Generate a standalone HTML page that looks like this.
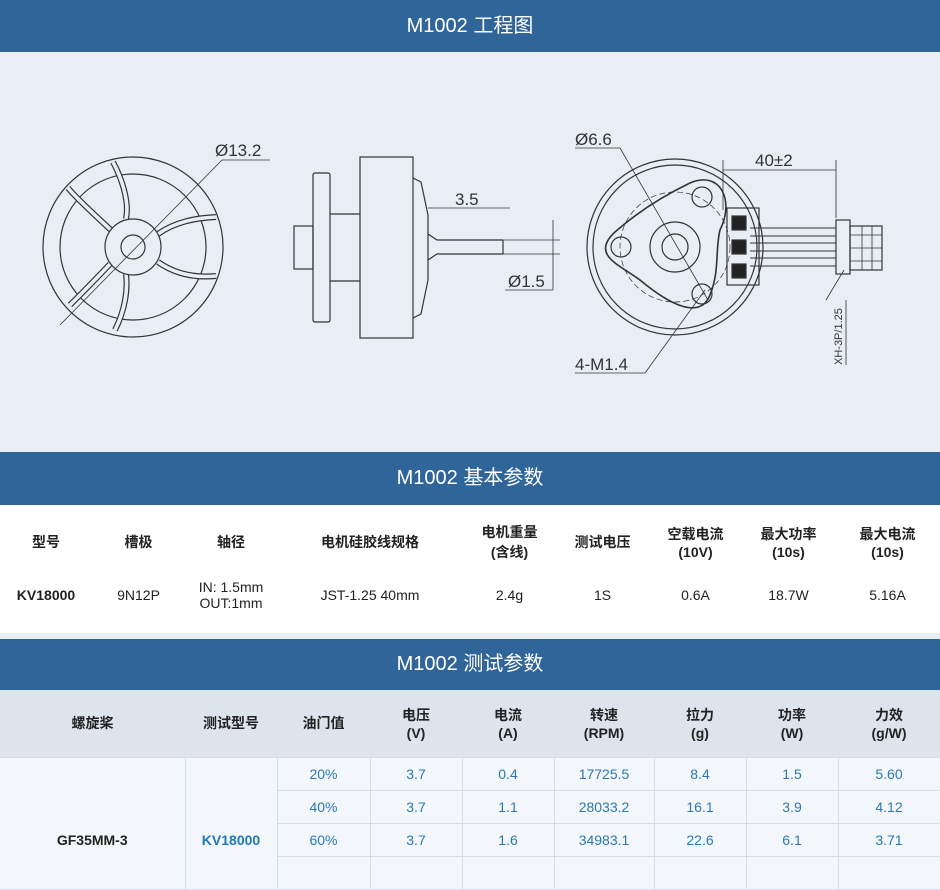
<!DOCTYPE html>
<html><head><meta charset="utf-8"><style>
*{margin:0;padding:0;box-sizing:border-box}
body{width:940px;height:863px;overflow:hidden;background:#fff;font-family:"Liberation Sans","Noto Sans CJK SC",sans-serif}
.bar{background:#306599;color:#fff;text-align:center;font-size:20px;position:absolute;left:0;width:940px}
.abs{position:absolute}
table{border-collapse:collapse;position:absolute;left:0;width:940px;table-layout:fixed}
td{text-align:center;vertical-align:middle;font-size:14px;color:#222}
.t2 td{border:1px solid #d5dde6}
.t2 .c{color:#2a7ab0}
</style></head><body>
<div class="bar" style="top:0;height:52px;line-height:52px">M1002 工程图</div>
<div class="abs" style="top:52px;left:0;width:940px;height:400px;background:#e9eef5"></div>
<svg class="abs" style="top:0;left:0" width="940" height="452" fill="none" stroke="#333" stroke-width="1.2">
<!-- left view -->
<circle cx="133" cy="247" r="90"/>
<circle cx="133" cy="247" r="73"/>
<g stroke-width="6">
<path d="M113 232 C95 215 78 200 68 188"/>
<path d="M126 219 C130 200 120 175 113 162"/>
<path d="M158 234 C175 222 195 218 216 217"/>
<path d="M158 262 C175 274 195 278 216 276"/>
<path d="M126 274 C128 290 125 310 115 330"/>
<path d="M110 264 C95 280 80 295 70 305"/>
</g>
<g stroke-width="3.6" stroke="#e9eef5">
<path d="M113 232 C95 215 78 200 68 188"/>
<path d="M126 219 C130 200 120 175 113 162"/>
<path d="M158 234 C175 222 195 218 216 217"/>
<path d="M158 262 C175 274 195 278 216 276"/>
<path d="M126 274 C128 290 125 310 115 330"/>
<path d="M110 264 C95 280 80 295 70 305"/>
</g>
<circle cx="133" cy="247" r="28" fill="#e9eef5"/>
<circle cx="133" cy="247" r="12"/>
<line x1="60" y1="325" x2="222" y2="160" stroke-width="0.8"/>
<line x1="222" y1="160" x2="270" y2="160" stroke-width="0.8"/>
<text x="215" y="156" font-size="17" fill="#333" stroke="none" font-family="Liberation Sans">Ø13.2</text>
<!-- side view -->
<rect x="313" y="173" width="17" height="149" rx="2"/>
<line x1="330" y1="214" x2="360" y2="214"/><line x1="330" y1="281" x2="360" y2="281"/>
<rect x="294" y="226" width="19" height="43"/>
<rect x="360" y="157" width="53" height="181"/>
<path d="M413 178 L421 182 L428 215 L428 280 L421 314 L413 318"/>
<path d="M428 234 L437 240 L503 240 M428 260 L437 254 L503 254"/>
<line x1="503" y1="240" x2="503" y2="254"/>
<line x1="428" y1="208" x2="510" y2="208" stroke-width="0.8"/>
<text x="455" y="205" font-size="17" fill="#333" stroke="none" font-family="Liberation Sans">3.5</text>
<line x1="503" y1="240" x2="560" y2="240" stroke-width="0.8"/>
<line x1="503" y1="254" x2="560" y2="254" stroke-width="0.8"/>
<line x1="553" y1="220" x2="553" y2="290" stroke-width="0.8"/>
<line x1="505" y1="290" x2="553" y2="290" stroke-width="0.8"/>
<text x="508" y="287" font-size="17" fill="#333" stroke="none" font-family="Liberation Sans">Ø1.5</text>
<!-- right view -->
<circle cx="675" cy="247" r="88"/>
<circle cx="675" cy="247" r="82"/>
<circle cx="675" cy="247" r="55" stroke-dasharray="6 3" stroke-width="0.7"/>
<path d="M690 183 C720 170 735 200 720 230 C715 250 720 270 710 295 C700 320 670 305 640 280 C620 265 590 255 615 232 C640 210 665 195 690 183 Z" stroke-width="1.6"/>
<circle cx="675" cy="247" r="25"/>
<circle cx="675" cy="247" r="13"/>
<circle cx="702" cy="197" r="10"/>
<circle cx="621" cy="247" r="10"/>
<circle cx="702" cy="294" r="10"/>
<rect x="727" y="208" width="32" height="77"/>
<rect x="732" y="216" width="14" height="14" fill="#222"/>
<rect x="732" y="240" width="14" height="14" fill="#222"/>
<rect x="732" y="264" width="14" height="14" fill="#222"/>
<path d="M750 228 H836 M750 236 H836 M750 243 H836 M750 251 H836 M750 258 H836 M750 266 H836" stroke-width="0.9"/>
<rect x="836" y="220" width="14" height="54"/>
<rect x="850" y="226" width="32" height="44"/>
<path d="M850 235 H882 M850 248 H882 M850 261 H882 M862 226 V270 M872 226 V270" stroke-width="0.8"/>
<line x1="723" y1="170" x2="836" y2="170" stroke-width="0.8"/>
<line x1="723" y1="160" x2="723" y2="210" stroke-width="0.8"/>
<line x1="836" y1="160" x2="836" y2="218" stroke-width="0.8"/>
<text x="755" y="166" font-size="17" fill="#333" stroke="none" font-family="Liberation Sans">40±2</text>
<line x1="575" y1="148" x2="620" y2="148" stroke-width="0.8"/>
<line x1="620" y1="148" x2="708" y2="300" stroke-width="0.8"/>
<text x="575" y="145" font-size="17" fill="#333" stroke="none" font-family="Liberation Sans">Ø6.6</text>
<line x1="575" y1="373" x2="645" y2="373" stroke-width="0.8"/>
<line x1="645" y1="373" x2="705" y2="290" stroke-width="0.8"/>
<text x="575" y="370" font-size="17" fill="#333" stroke="none" font-family="Liberation Sans">4-M1.4</text>
<line x1="844" y1="270" x2="826" y2="300" stroke-width="0.8"/>
<line x1="846" y1="300" x2="846" y2="365" stroke-width="0.8"/>
<text transform="translate(842,365) rotate(-90)" font-size="11" fill="#333" stroke="none" font-family="Liberation Sans">XH-3P/1.25</text>
</svg>
<div class="bar" style="top:452px;height:53px;line-height:53px">M1002 基本参数</div>
<table style="top:505px;height:128px">
<colgroup><col style="width:92px"><col style="width:93px"><col style="width:92px"><col style="width:186px"><col style="width:93px"><col style="width:93px"><col style="width:93px"><col style="width:93px"><col style="width:105px"></colgroup>
<tr style="height:73px"><td><b>型号</b></td><td><b>槽极</b></td><td><b>轴径</b></td><td><b>电机硅胶线规格</b></td><td><b>电机重量<br>(含线)</b></td><td><b>测试电压</b></td><td><b>空载电流<br>(10V)</b></td><td><b>最大功率<br>(10s)</b></td><td><b>最大电流<br>(10s)</b></td></tr>
<tr style="height:34px"><td><b>KV18000</b></td><td>9N12P</td><td>IN: 1.5mm<br>OUT:1mm</td><td>JST-1.25 40mm</td><td>2.4g</td><td>1S</td><td>0.6A</td><td>18.7W</td><td>5.16A</td></tr>
<tr><td colspan="9"></td></tr>
</table>
<div class="abs" style="top:633px;left:0;width:940px;height:6px;background:#e9eef5"></div>
<div class="bar" style="top:639px;height:51px;line-height:51px">M1002 测试参数</div>
<div class="abs" style="top:690px;left:0;width:940px;height:173px;background:#f3f6fa"></div>
<table class="t2" style="top:690px;background:#f3f6fa">
<colgroup><col style="width:185px"><col style="width:92px"><col style="width:93px"><col style="width:92px"><col style="width:92px"><col style="width:100px"><col style="width:92px"><col style="width:92px"><col style="width:102px"></colgroup>
<tr style="height:67px;background:#dde4ec"><td style="border:none"><b>螺旋桨</b></td><td style="border:none"><b>测试型号</b></td><td style="border:none"><b>油门值</b></td><td style="border:none"><b>电压<br>(V)</b></td><td style="border:none"><b>电流<br>(A)</b></td><td style="border:none"><b>转速<br>(RPM)</b></td><td style="border:none"><b>拉力<br>(g)</b></td><td style="border:none"><b>功率<br>(W)</b></td><td style="border:none"><b>力效<br>(g/W)</b></td></tr>
<tr style="height:33px"><td rowspan="4" style="vertical-align:top;padding-top:74px;border-left:none"><b>GF35MM-3</b></td><td rowspan="4" style="vertical-align:top;padding-top:74px"><b style="color:#1f78b4">KV18000</b></td><td class="c">20%</td><td class="c">3.7</td><td class="c">0.4</td><td class="c">17725.5</td><td class="c">8.4</td><td class="c">1.5</td><td class="c">5.60</td></tr>
<tr style="height:33px"><td class="c">40%</td><td class="c">3.7</td><td class="c">1.1</td><td class="c">28033.2</td><td class="c">16.1</td><td class="c">3.9</td><td class="c">4.12</td></tr>
<tr style="height:33px"><td class="c">60%</td><td class="c">3.7</td><td class="c">1.6</td><td class="c">34983.1</td><td class="c">22.6</td><td class="c">6.1</td><td class="c">3.71</td></tr>
<tr style="height:33px"><td></td><td></td><td></td><td></td><td></td><td></td><td></td></tr>
</table>
</body></html>
